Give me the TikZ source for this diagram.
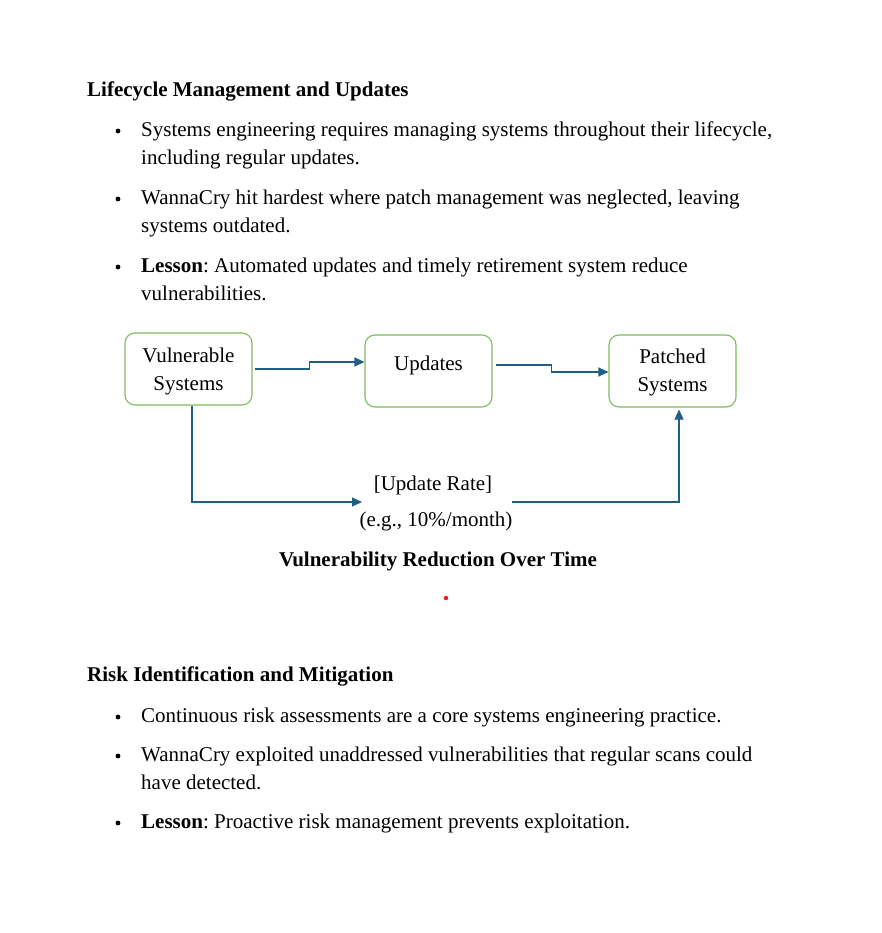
\documentclass[tikz,border=0pt]{standalone}
\usepackage{fontspec}
\setmainfont{Liberation Serif}
\usetikzlibrary{arrows.meta}
\definecolor{boxgreen}{RGB}{125,190,95}
\definecolor{arrblue}{RGB}{31,95,130}
\definecolor{dotred}{RGB}{230,30,30}
\frenchspacing
\tikzset{
  txt/.style={anchor=base west, inner sep=0pt, font=\fontsize{21}{28}\selectfont, align=left},
  head/.style={txt, font=\fontsize{21}{28}\selectfont\bfseries},
  ctxt/.style={anchor=base, inner sep=0pt, font=\fontsize{21}{28}\selectfont, align=center},
  bul/.style={circle, fill=black, inner sep=0pt, minimum size=4.8pt},
  stagebox/.style={draw=boxgreen, line width=1.1pt, rounded corners=10pt, minimum width=127pt, minimum height=72pt, inner sep=0pt},
  arr/.style={draw=arrblue, line width=1.1pt, -{Triangle[length=10pt,width=9pt]}}
}
\begin{document}
\begin{tikzpicture}[x=1pt,y=-1pt]
\useasboundingbox (0,0) rectangle (882,933);
\fill[white] (0,0) rectangle (882,933);
% heading 1
\node[head] (h1) at (87,96.5) {Lifecycle Management and Updates};
\node[bul] (b1) at (118,131) {};
\node[txt] (t1a) at (141,136.5) {Systems engineering requires managing systems throughout their lifecycle,};
\node[txt] (t1b) at (141,164.5) {including regular updates.};
\node[bul] (b2) at (118,199) {};
\node[txt] (t2a) at (141,204.5) {WannaCry hit hardest where patch management was neglected, leaving};
\node[txt] (t2b) at (141,232.5) {systems outdated.};
\node[bul] (b3) at (118,267) {};
\node[txt] (t3a) at (141,272.5) {\textbf{Lesson}: Automated updates and timely retirement system reduce};
\node[txt] (t3b) at (141,300.5) {vulnerabilities.};
% diagram
\node[stagebox] (v) at (188.5,369) {};
\node[ctxt] (vt) at (188.5,390.5) {Vulnerable\\Systems};
\node[stagebox] (u) at (428.5,371) {};
\node[ctxt] (ut) at (428.5,370) {Updates};
\node[stagebox] (p) at (672.5,371) {};
\node[ctxt] (pt) at (672.5,391.5) {Patched\\Systems};
\draw[arr] ([xshift=2pt]v.east) -- ++(55,0) |- ([yshift=9pt]u.west);
\draw[arr] ([xshift=3pt,yshift=6pt]u.east) -- ++(56,0) |- ([yshift=-1pt]p.west);
\node[ctxt] (r1) at (433,490) {[Update Rate]};
\node[ctxt] (r2) at (436,526) {(e.g., 10\%/month)};
\coordinate (c1) at (362,502);
\coordinate (c2) at (512,502);
\draw[arr] ([xshift=3.5pt]v.south) |- (c1);
\draw[arr, shorten >=2pt] (c2) -| ([xshift=6.5pt]p.south);
\node[ctxt, font=\fontsize{21}{28}\selectfont\bfseries] (cap) at (438,566) {Vulnerability Reduction Over Time};
\node[circle, fill=dotred, inner sep=0pt, minimum size=4.5pt] (dot) at (446,598) {};
% heading 2
\node[head] (h2) at (87,681.5) {Risk Identification and Mitigation};
\node[bul] (b4) at (118,717) {};
\node[txt] (t4a) at (141,722.5) {Continuous risk assessments are a core systems engineering practice.};
\node[bul] (b5) at (118,756) {};
\node[txt] (t5a) at (141,761.5) {WannaCry exploited unaddressed vulnerabilities that regular scans could};
\node[txt] (t5b) at (141,789.5) {have detected.};
\node[bul] (b6) at (118,823) {};
\node[txt] (t6a) at (141,828.5) {\textbf{Lesson}: Proactive risk management prevents exploitation.};
\end{tikzpicture}
\end{document}
